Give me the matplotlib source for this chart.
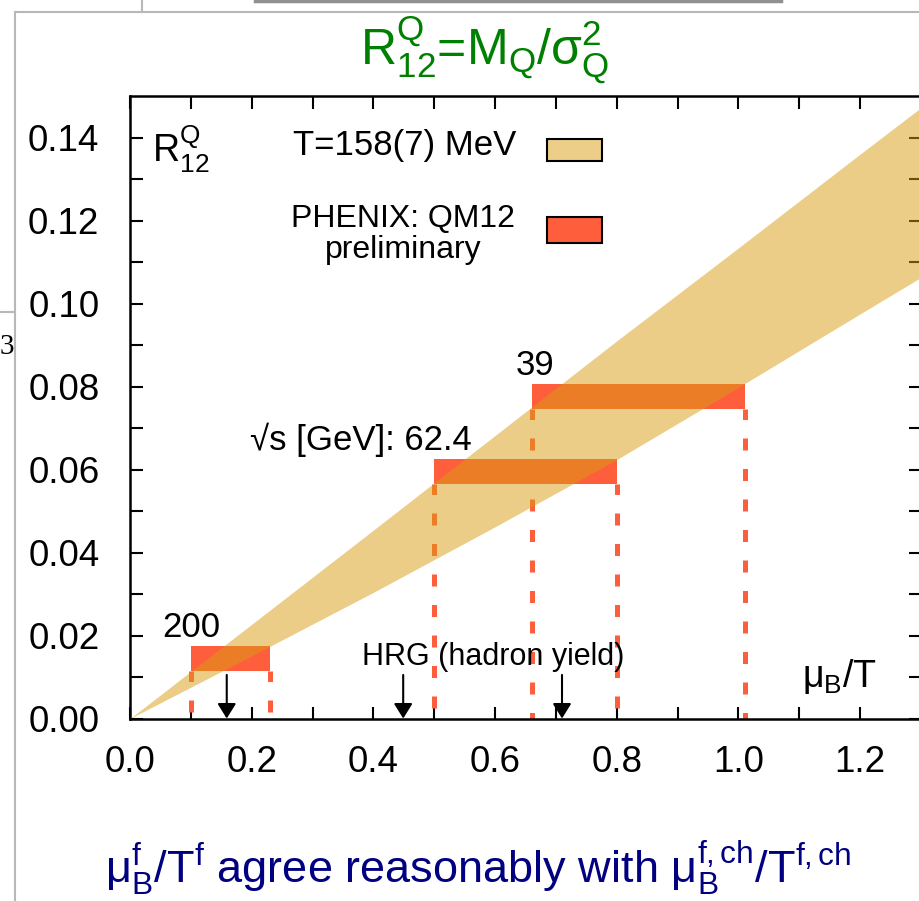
import numpy as np
import matplotlib
matplotlib.use('Agg')
import matplotlib.pyplot as plt
from matplotlib.patches import Rectangle
from matplotlib.lines import Line2D

plt.rcParams['font.family'] = ['Liberation Sans', 'DejaVu Sans']
plt.rcParams['mathtext.fontset'] = 'custom'
plt.rcParams['mathtext.rm'] = 'Liberation Sans'
plt.rcParams['mathtext.it'] = 'Liberation Sans'
plt.rcParams['mathtext.default'] = 'rm'

#T=158(7) MeV band, R12 vs mu_B/T
band_x = [0.0, 0.2, 0.4, 0.6, 0.8, 1.0, 1.2, 1.3]
band_lo = [0.0, 0.0151, 0.0304, 0.0462, 0.0624, 0.0798, 0.0975, 0.1063]
band_hi = [0.0, 0.0227, 0.0454, 0.0682, 0.0910, 0.1134, 0.1360, 0.1472]

#PHENIX QM12 preliminary boxes
energies = ['200', '62.4', '39']
box_xlo = [0.10, 0.50, 0.66]
box_xhi = [0.23, 0.80, 1.01]
box_ylo = [0.0115, 0.0565, 0.0745]
box_yhi = [0.0175, 0.0625, 0.0805]

#HRG (hadron yield) arrows
hrg_x = [0.159, 0.449, 0.710]
hrg_top = 0.0105

xticks = [0.0, 0.2, 0.4, 0.6, 0.8, 1.0, 1.2]
yticks = [0.00, 0.02, 0.04, 0.06, 0.08, 0.10, 0.12, 0.14]

red = '#ff5e3c'
tan = '#d89c12'

fig = plt.figure(figsize=(9.19, 9.01), dpi=100)
W, H = 919.0, 901.0

ax = fig.add_axes([130 / W, 1 - 718.5 / H, (921 - 130) / W, (718.5 - 96) / H])
ax.set_xlim(0, 1.3)
ax.set_ylim(0, 0.15)

#boxes first, band is drawn over them half transparent
for i in range(len(energies)):
        ax.add_patch(Rectangle((box_xlo[i], box_ylo[i]), box_xhi[i] - box_xlo[i],
                               box_yhi[i] - box_ylo[i], facecolor=red, edgecolor='none', zorder=2))
        for xe in (box_xlo[i], box_xhi[i]):
                ax.plot([xe, xe], [box_ylo[i], 0], color=red, lw=3.6,
                        ls=(0.3, (2.4, 3.7)), solid_capstyle='butt', dash_capstyle='butt', zorder=2)

ax.fill_between(band_x, band_lo, band_hi, color=tan, alpha=0.5, lw=0, zorder=3)

for xa in hrg_x:
        ax.annotate('', xy=(xa, 0), xytext=(xa, hrg_top),
                    arrowprops=dict(arrowstyle='-|>,head_length=0.45,head_width=0.28',
                                    color='black', lw=1.5, shrinkA=0, shrinkB=0, mutation_scale=20),
                    zorder=5)

#ticks inside on all four sides
ax.set_xticks(xticks)
ax.set_xticklabels(['%.1f' % v for v in xticks])
ax.set_yticks(yticks)
ax.set_yticklabels(['%.2f' % v for v in yticks])
ax.set_xticks(np.arange(0.1, 1.3, 0.2), minor=True)
ax.set_yticks(np.arange(0.01, 0.15, 0.02), minor=True)
ax.tick_params(which='both', direction='in', top=True, right=True, length=9, width=1.5,
               labelsize=26.5, color='black')
ax.tick_params(axis='x', pad=19)
ax.tick_params(axis='y', pad=22)
for s in ax.spines.values():
        s.set_linewidth(1.8)

ax.text(0.036, 0.1339, r'$R^{Q}_{12}$', fontsize=27, ha='left', va='baseline')
ax.text(0.452, 0.1358, 'T=158(7) MeV', fontsize=25, ha='center', va='baseline')
ax.text(0.449, 0.1184, 'PHENIX: QM12', fontsize=23, ha='center', va='baseline')
ax.text(0.449, 0.1110, 'preliminary', fontsize=23, ha='center', va='baseline')
ax.add_patch(Rectangle((0.6855, 0.1344), 0.0905, 0.0053, facecolor='#ecce88',
                       edgecolor='black', lw=1.5, zorder=4))
ax.add_patch(Rectangle((0.6855, 0.1146), 0.0905, 0.0062, facecolor=red,
                       edgecolor='black', lw=1.5, zorder=4))

ax.text(0.0526, 0.0196, energies[0], fontsize=25, ha='left', va='baseline')
ax.text(0.562, 0.0647, u'\u221as [GeV]: ' + energies[1], fontsize=25, ha='right', va='baseline')
ax.text(0.666, 0.0828, energies[2], fontsize=25, ha='center', va='baseline')
ax.text(0.381, 0.0129, 'HRG (hadron yield)', fontsize=22, ha='left', va='baseline', zorder=6)
ax.text(1.105, 0.0076, r'$\mu_{B}$/T', fontsize=27, ha='left', va='baseline')

#title and bottom line of the slide
fig.text(485 / W, 1 - 50 / H, r'$R^{Q}_{12}$=M$_{Q}$/$\sigma^{2}_{Q}$', color='#008000',
         fontsize=36, ha='center', va='center')
fig.text(478 / W, 1 - 868 / H,
         r'$\mu^{f}_{B}$/T$^{f}$ agree reasonably with $\mu^{f,ch}_{B}$/T$^{f,ch}$',
         color='#000080', fontsize=32.5, ha='center', va='center')

#slide frame leftovers
grey = '#b8b8b8'
fig.add_artist(Line2D([15 / W, 1], [1 - 12 / H, 1 - 12 / H], transform=fig.transFigure, color=grey, lw=1.5))
fig.add_artist(Line2D([15 / W, 15 / W], [0, 1 - 12 / H], transform=fig.transFigure, color=grey, lw=1.5))
fig.add_artist(Line2D([142 / W, 142 / W], [1 - 12 / H, 1], transform=fig.transFigure, color=grey, lw=1.5))
fig.add_artist(Line2D([255 / W, 781 / W], [1 - 1 / H, 1 - 1 / H], transform=fig.transFigure, color='#909090', lw=2.5))
fig.add_artist(Line2D([0, 15 / W], [1 - 312 / H, 1 - 312 / H], transform=fig.transFigure, color=grey, lw=1.5))
fig.text(14 / W, 1 - 347 / H, '3', family='Liberation Serif', fontsize=21, ha='right', va='center')

fig.savefig('out.png', dpi=100)
